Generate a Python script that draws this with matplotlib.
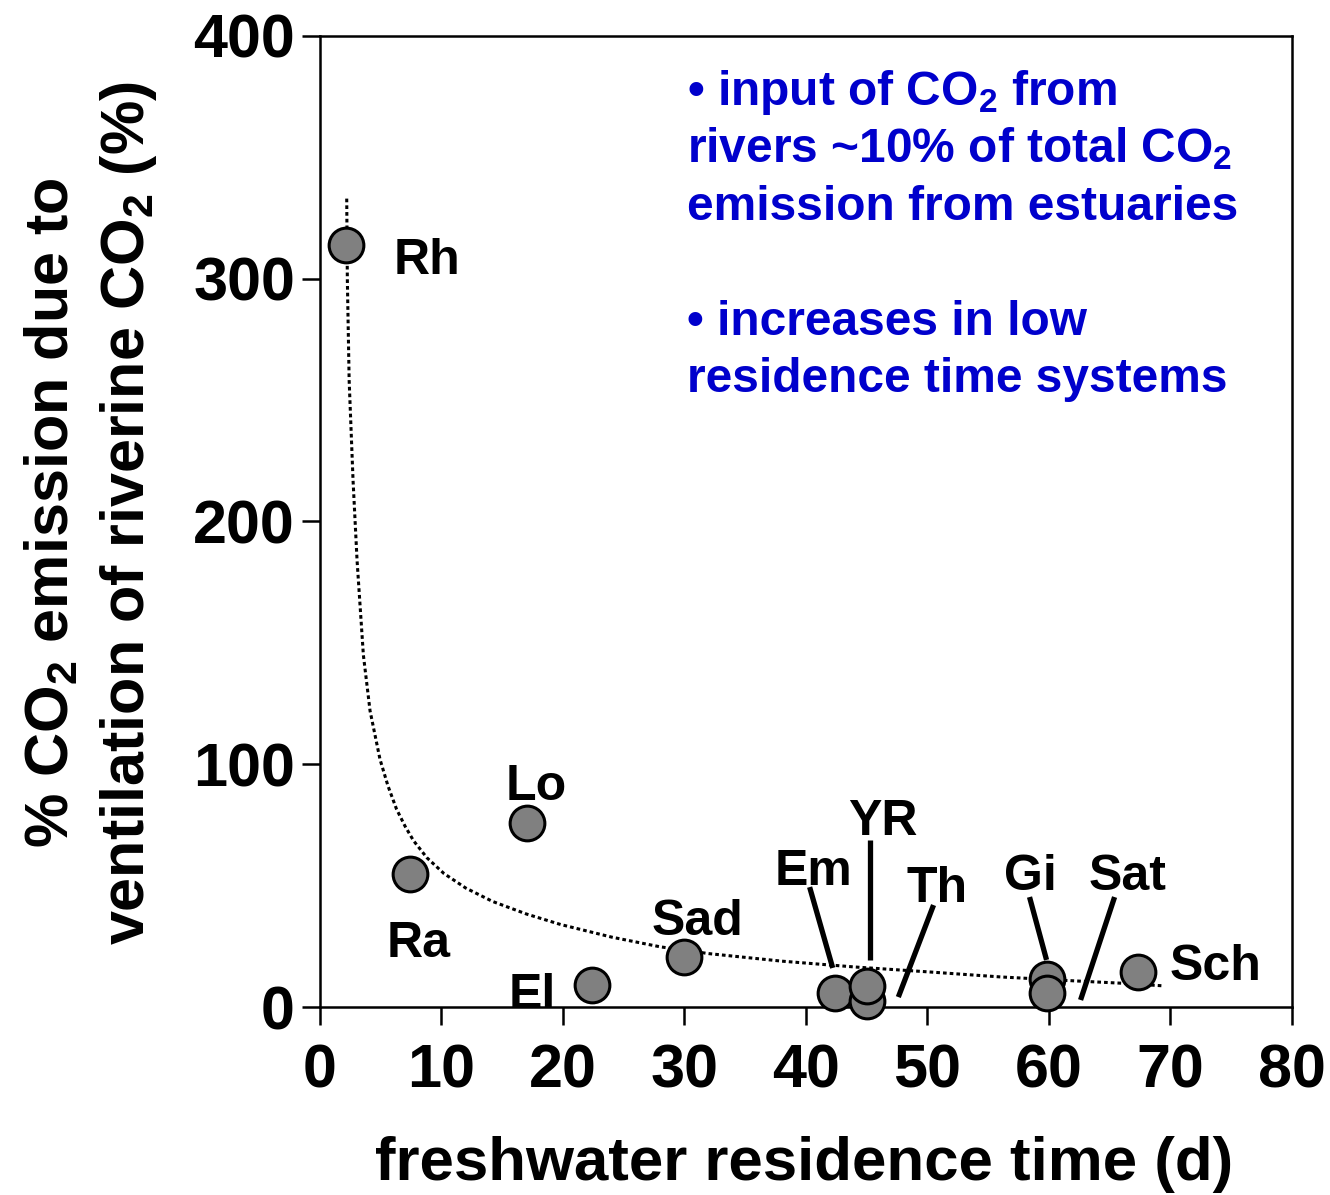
import numpy as np
import matplotlib
matplotlib.use('Agg')
import matplotlib.pyplot as plt

plt.rcParams['font.family'] = ['Liberation Sans', 'DejaVu Sans']
plt.rcParams['font.weight'] = 'bold'
plt.rcParams['mathtext.fontset'] = 'custom'
plt.rcParams['mathtext.rm'] = 'Liberation Sans:bold'
plt.rcParams['mathtext.bf'] = 'Liberation Sans:bold'
plt.rcParams['mathtext.it'] = 'Liberation Sans:bold'
plt.rcParams['mathtext.default'] = 'rm'

# estuaries (order matters for overlap drawing)
names = ['Rh', 'Ra', 'Lo', 'El', 'Sad', 'Em', 'Th', 'YR', 'Gi', 'Sat', 'Sch']
res_time = [2.1, 7.4, 17.0, 22.4, 30.0, 42.4, 45.0, 45.0, 59.8, 59.8, 67.3]
pct_co2 = [314, 55, 76, 9, 20.5, 5.8, 2.5, 8.7, 11.5, 5.8, 14.5]

# label positions (baseline)
label_x = [8.8, 8.1, 17.8, 17.5, 31.1, 40.6, 50.8, 46.3, 58.5, 66.5, 73.7]
label_y = [302, 20.6, 85.3, -1.0, 29.7, 50.3, 43.3, 70.9, 48.2, 48.2, 11.1]

# leader lines
leader_x0 = [40.3, 45.3, 50.5, 58.4, 65.4]
leader_y0 = [49.4, 68.8, 42.0, 45.3, 45.3]
leader_x1 = [42.2, 45.3, 47.6, 59.8, 62.6]
leader_y1 = [16.1, 19.4, 4.1, 19.4, 2.9]

# dotted fit curve
curve_x = [2.2, 2.25, 2.4, 2.72, 3.05, 3.57, 4.12, 4.94, 5.6, 6.3, 7.0, 7.7, 8.8, 10.2,
           12.0, 14.2, 17.0, 19.8, 24, 28, 32, 38, 44, 50, 56, 62, 66, 69.5]
curve_y = [333, 300, 258, 217, 184, 145, 122, 102, 91, 81.5, 74.5, 68.5, 61.5, 55,
           49, 43.5, 38.3, 34, 28.8, 24.8, 22.0, 18.9, 16.5, 14.5, 12.4, 10.8, 9.8, 8.7]

notes = ['\u2022 input of CO$_2$ from',
         'rivers ~10% of total CO$_2$',
         'emission from estuaries',
         '\u2022 increases in low',
         'residence time systems']
note_y = [0.929, 0.870, 0.8105, 0.692, 0.633]

fig = plt.figure(figsize=(13.3, 11.95), dpi=100)
ax = fig.add_axes([0.2406, 0.1573, 0.7308, 0.8126])

ax.plot(curve_x, curve_y, color='black', lw=2.2, linestyle=(0, (1.2, 1.0)), zorder=2)

for x0, y0, x1, y1 in zip(leader_x0, leader_y0, leader_x1, leader_y1):
    ax.plot([x0, x1], [y0, y1], color='black', lw=3.8, solid_capstyle='butt', zorder=3)

ax.scatter(res_time, pct_co2, s=25**2, c='#808080', edgecolors='black',
           linewidths=2.2, zorder=4, clip_on=False)

for name, lx, ly in zip(names, label_x, label_y):
    ax.text(lx, ly, name, fontsize=36, fontweight='bold', ha='center', va='baseline',
            clip_on=(name == 'El'), zorder=5)

for txt, ty in zip(notes, note_y):
    ax.text(0.3776, ty, txt, transform=ax.transAxes, fontsize=34.5, fontweight='bold',
            color='#0000CC', ha='left', va='baseline')

ax.set_xlim(0, 80)
ax.set_ylim(0, 400)
ax.set_xticks(np.arange(0, 81, 10))
ax.set_yticks(np.arange(0, 401, 100))
for sp in ax.spines.values():
    sp.set_linewidth(1.8)
ax.tick_params(direction='out', length=13, width=1.8, labelsize=44)
ax.tick_params(axis='x', pad=13)
ax.tick_params(axis='y', pad=5)

ax.set_xlabel('freshwater residence time (d)', fontsize=44.5, fontweight='bold')
ax.xaxis.set_label_coords(0.498, -0.133)
ax.xaxis.label.set_verticalalignment('top')

ax.set_ylabel('% CO$_2$ emission due to\nventilation of riverine CO$_2$ (%)',
              fontsize=44, fontweight='bold', linespacing=1.35)
ax.yaxis.label.set_verticalalignment('center')
ax.yaxis.set_label_coords(-0.235, 0.509)

fig.savefig('out.png', dpi=100)
